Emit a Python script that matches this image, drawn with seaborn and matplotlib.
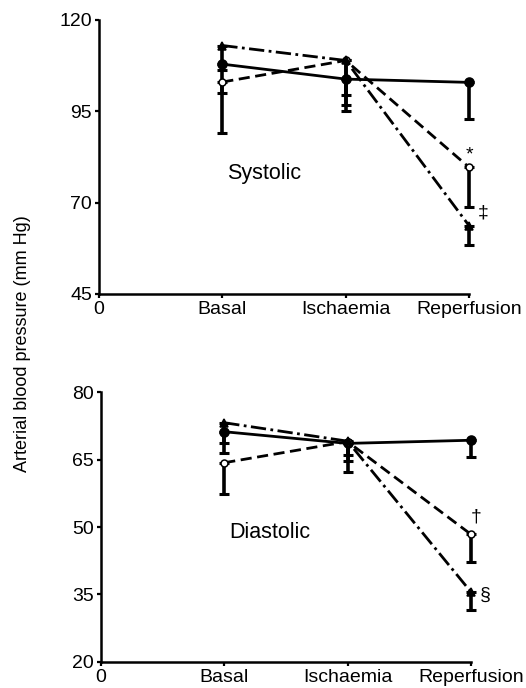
import numpy as np
import pandas as pd
import matplotlib
matplotlib.use('Agg')
import matplotlib.pyplot as plt
import seaborn as sns

# phases on the x axis (0 is the origin label only)
phases = ['Basal', 'Ischaemia', 'Reperfusion']
phase_pos = [1, 2, 3]
xtick_labels = ['0'] + phases

# systolic pressure (mm Hg) and one-sided SD
sys_solid = [107.9, 103.8, 102.9]
sys_solid_sd = [7.9, 4.3, 9.9]
sys_open = [103.0, 108.9, 79.6]
sys_open_sd = [14.0, 12.1, 10.9]
sys_tri = [113.0, 108.9, 63.6]
sys_tri_sd = [6.6, 13.9, 5.2]

# diastolic pressure (mm Hg) and one-sided SD
dia_solid = [71.2, 68.6, 69.3]
dia_solid_sd = [2.5, 3.9, 3.7]
dia_open = [64.3, 69.0, 48.4]
dia_open_sd = [7.0, 3.0, 6.1]
dia_tri = [73.2, 69.1, 35.6]
dia_tri_sd = [6.7, 6.8, 4.0]

sys_ticks = [45, 70, 95, 120]
dia_ticks = [20, 35, 50, 65, 80]

sns.set_theme(style='ticks')
plt.rcParams['font.family'] = ['Liberation Sans', 'DejaVu Sans']
plt.rcParams['text.color'] = 'black'

styles = {
    'solid': dict(ls='-', marker='o', mfc='black', ms=6.5),
    'open': dict(ls=(0, (4, 2)), marker='o', mfc='white', ms=5),
    'tri': dict(ls=(0, (5.5, 1.6, 1, 1.6)), marker='^', mfc='black', ms=5.5),
}


def draw_panel(ax, series, ticks, label, marks):
    for key, vals, sd in series:
        st = styles[key]
        df = pd.DataFrame({'x': phase_pos, 'y': vals})
        ax.errorbar(df['x'], df['y'], yerr=[sd, [0] * len(sd)], fmt='none',
                    ecolor='black', elinewidth=2.6, capsize=3.5, capthick=2.2,
                    clip_on=False, zorder=2)
        sns.lineplot(data=df, x='x', y='y', ax=ax, color='black', lw=2.0,
                     linestyle=st['ls'], marker=st['marker'],
                     markerfacecolor=st['mfc'], markeredgecolor='black',
                     markeredgewidth=1.1, markersize=st['ms'],
                     clip_on=False, zorder=3)
    ax.set_xlim(0, 3)
    ax.set_ylim(ticks[0], ticks[-1])
    ax.set_xticks([0] + phase_pos)
    ax.set_xticklabels(xtick_labels)
    ax.set_yticks(ticks)
    ax.set_xlabel('')
    ax.set_ylabel('')
    sns.despine(ax=ax)
    for s in ['left', 'bottom']:
        ax.spines[s].set_linewidth(1.8)
        ax.spines[s].set_color('black')
    ax.tick_params(axis='both', labelsize=14, length=3, width=1.6, pad=2,
                   colors='black')
    ax.text(label[1], label[2], label[0], fontsize=15.5, va='center',
            color='black')
    for txt, x, y in marks:
        ax.text(x, y, txt, fontsize=14, ha='center', va='center',
                color='black')


fig = plt.figure(figsize=(5.26, 6.88), dpi=100)
ax1 = fig.add_axes([0.188, 0.573, 0.704, 0.398])
ax2 = fig.add_axes([0.192, 0.038, 0.703, 0.392])

draw_panel(ax1, [('solid', sys_solid, sys_solid_sd),
                 ('open', sys_open, sys_open_sd),
                 ('tri', sys_tri, sys_tri_sd)], sys_ticks,
           ('Systolic', 1.04, 78.0),
           [('*', 3.0, 83.0), ('\u2021', 3.11, 67.2)])

draw_panel(ax2, [('solid', dia_solid, dia_solid_sd),
                 ('open', dia_open, dia_open_sd),
                 ('tri', dia_tri, dia_tri_sd)], dia_ticks,
           ('Diastolic', 1.04, 48.7),
           [('\u2020', 3.04, 52.2), ('\u00a7', 3.12, 34.9)])

fig.text(0.042, 0.5, 'Arterial blood pressure (mm Hg)', rotation=90,
         ha='center', va='center', fontsize=13, color='black')

fig.savefig('out.png', dpi=100)
